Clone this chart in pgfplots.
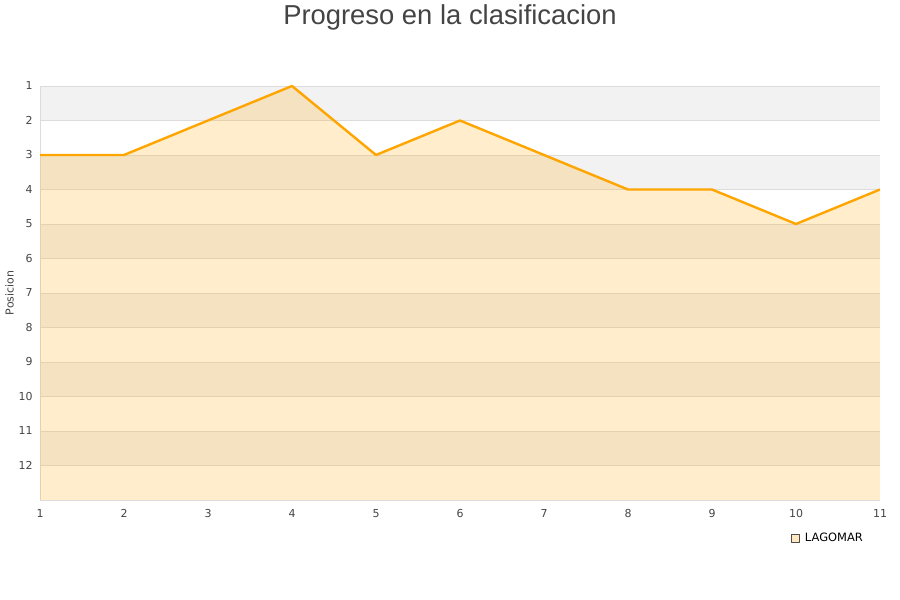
\documentclass[border=0pt]{standalone}
\usepackage{fontspec}
\setmainfont{DejaVu Sans}
\newfontfamily\titlefont{Liberation Sans}
\usepackage{pgfplots}
\pgfplotsset{compat=1.18}
\definecolor{linecol}{HTML}{FFA500}
\definecolor{bandgrey}{HTML}{F2F2F2}
\definecolor{gridgrey}{HTML}{DCDCDC}
\definecolor{txtgrey}{HTML}{444444}
\pgfplotsset{band/.style={draw=none, fill=bandgrey, forget plot, on layer=axis background}}
\begin{document}
\begin{tikzpicture}
\path (0,0) rectangle (900bp,600bp);
\node[font=\titlefont\fontsize{27.5}{32}\selectfont, text=txtgrey] at (450bp,583bp) {Progreso en la clasificacion};
\begin{axis}[
    set layers,
    at={(40bp,100bp)}, anchor=south west,
    scale only axis, width=840bp, height=414bp,
    xmin=1, xmax=11, ymin=1, ymax=13,
    y dir=reverse,
    xtick={1,...,11}, ytick={1,...,12},
    ymajorgrids, grid style={gridgrey, line width=0.8pt},
    major tick length=0pt,
    axis x line*=bottom, axis y line*=left,
    axis line style={gridgrey, line width=0.8pt, -},
    tick label style={font=\fontsize{11}{13}\selectfont, text=txtgrey},
    /pgf/number format/assume math mode=true,
    xticklabel style={yshift=-6bp},
    yticklabel style={xshift=-4bp},
    ylabel={Posicion},
    ylabel style={font=\fontsize{11}{13}\selectfont, text=txtgrey, yshift=-2bp},
    legend style={at={(1,-0.07)}, anchor=north east, xshift=-12bp, draw=none, fill=none,
        font=\fontsize{11.5}{13}\selectfont, legend cell align=left},
    legend image code/.code={%
        \draw[solid, fill=linecol!25, draw=black!70, line width=0.6pt] (0bp,-4bp) rectangle (8bp,4bp);
        \path[draw=none, fill=none] (0bp,0bp) -- (12bp,0bp);},
]
% grey background bands
\addplot[band] coordinates {(1,1) (11,1) (11,2) (1,2)};
\addplot[band] coordinates {(1,3) (11,3) (11,4) (1,4)};
\addplot[band] coordinates {(1,5) (11,5) (11,6) (1,6)};
\addplot[band] coordinates {(1,7) (11,7) (11,8) (1,8)};
\addplot[band] coordinates {(1,9) (11,9) (11,10) (1,10)};
\addplot[band] coordinates {(1,11) (11,11) (11,12) (1,12)};
\addplot[draw=none, fill=linecol, fill opacity=0.2, forget plot]
    coordinates {(1,13) (1,3) (2,3) (3,2) (4,1) (5,3) (6,2) (7,3) (8,4) (9,4) (10,5) (11,4) (11,13)};
\addplot[linecol, line width=2.4pt, line join=round]
    coordinates {(1,3) (2,3) (3,2) (4,1) (5,3) (6,2) (7,3) (8,4) (9,4) (10,5) (11,4)};
\addlegendentry{LAGOMAR}
\end{axis}
\end{tikzpicture}
\end{document}
